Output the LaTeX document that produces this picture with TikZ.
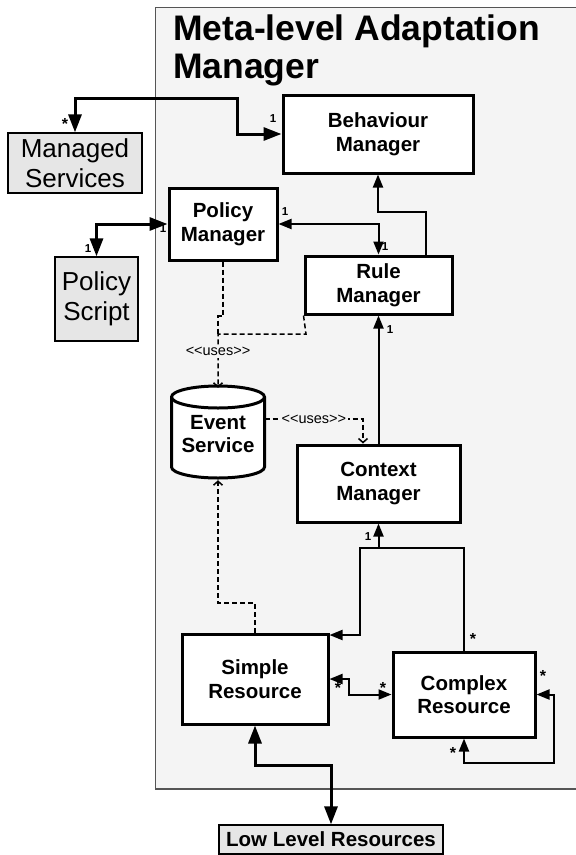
\documentclass[tikz,border=0pt]{standalone}
\usepackage{fontspec}
\setmainfont{Liberation Sans}
\newfontfamily\labelfont{Liberation Sans}
\usetikzlibrary{arrows.meta,calc}

\definecolor{panelbg}{HTML}{F4F4F4}
\definecolor{extfill}{HTML}{E6E6E6}
\definecolor{panelrule}{HTML}{555555}

\begin{document}
\begin{tikzpicture}[x=1pt,y=-1pt,
  mgr/.style={draw, line width=3pt, fill=white, align=center, inner sep=0pt,
    font=\bfseries\fontsize{20.5}{23.5}\selectfont},
  ext/.style={draw, line width=1.3pt, fill=extfill, align=center, inner sep=0pt},
  heavy/.style={line width=3pt,
    {Triangle[length=18pt,width=13pt]}-{Triangle[length=18pt,width=13pt]}},
  medium/.style={line width=2pt},
  medtip/.style={-{Triangle[length=13pt,width=10pt]}},
  medtips/.style={{Triangle[length=13pt,width=10pt]}-{Triangle[length=13pt,width=10pt]}},
  uses/.style={line width=1.5pt, dash pattern=on 5pt off 3pt,
    -{Straight Barb[length=4pt,width=9pt]}},
  useslabel/.style={fill=panelbg, inner sep=1.5pt, font=\labelfont\fontsize{14.5}{14.5}\selectfont},
  mult/.style={inner sep=0pt, font=\bfseries\fontsize{11.5}{11.5}\selectfont},
  star/.style={inner sep=0pt, font=\bfseries\fontsize{16}{16}\selectfont}]

\useasboundingbox (0,0) rectangle (576,855);
\clip (0,0) rectangle (576,855);
\fill[white] (0,0) rectangle (576,855);

% package boundary
\fill[panelbg] (155.5,7.5) rectangle (590,789);
\draw[panelrule, line width=1.2pt] (590,7.5) -- (155.5,7.5) -- (155.5,789) -- (590,789);
\node[anchor=north west, align=left, inner sep=0pt,
  font=\bfseries\fontsize{35.5}{38}\selectfont] (title) at (173,15)
  {Meta-level Adaptation\\Manager};

% components
\node[mgr, minimum width=190, minimum height=78] (beh) at (378,134) {Behaviour\\Manager};
\node[mgr, minimum width=108, minimum height=72] (pol) at (223,224) {Policy\\Manager};
\node[mgr, minimum width=147, minimum height=58] (rule) at (378.5,285) {Rule\\Manager};
\node[mgr, minimum width=163, minimum height=77] (ctx) at (378.5,483.5) {Context\\Manager};
\node[mgr, minimum width=146, minimum height=90] (simple) at (255,679) {Simple\\Resource};
\node[mgr, minimum width=142, minimum height=85] (complex) at (464,694.5) {Complex\\Resource};

% event service drum
\path[fill=white, draw, line width=3pt] (171.5,397) -- (171.5,467)
  arc[start angle=180, end angle=0, x radius=46.5, y radius=11] -- (264.5,397)
  arc[start angle=0, end angle=-180, x radius=46.5, y radius=11] -- cycle;
\draw[line width=3pt] (171.5,397) arc[start angle=180, end angle=0, x radius=46.5, y radius=11];
\node[align=center, inner sep=0pt, minimum width=93, minimum height=92,
  font=\bfseries\fontsize{20.5}{23.5}\selectfont] (event) at (218,434) {Event\\Service};

% external parties
\node[ext, minimum width=134, minimum height=60, font=\fontsize{26}{30}\selectfont]
  (ms) at (75,163) {Managed\\Services};
\node[ext, minimum width=83, minimum height=84, font=\fontsize{26}{30}\selectfont]
  (ps) at (96.5,299) {Policy\\Script};
\node[ext, minimum width=224, minimum height=29, font=\bfseries\fontsize{20.5}{24}\selectfont]
  (llr) at (331,839.5) {Low Level Resources};

% associations
\draw[heavy] (ms.north) |- (237,98) |- (beh.west);
\draw[heavy] (ps.north) |- (pol.west);
\draw[medium, medtips] (pol.east) -| (rule.north);
\draw[medium, medtip] ($(rule.north)+(47.5,0)$) |- (378,212) -- (beh.south);
\draw[medium, medtip] (ctx.north) -- (rule.south);
\draw[medium, medtip] (complex.north) |- (360,548) |- ($(simple.north east)+(0,2.5)$);
\draw[medium, medtip] (ctx.south |- 0,548) -- (ctx.south);
\draw[medium, medtips] (simple.east) -- ++(19,0) |- (complex.west);
\draw[medium, medtips] (complex.east) -- ++(17,0) |- ($(complex.south)+(0,24)$) -- (complex.south);
\draw[heavy] (simple.south) |- (llr.north |- 0,765) -- (llr.north);

% dependencies
\draw[uses, -] (pol.south) -- (223,316) -- (218,316) -- (218,334);
\draw[uses] (rule.south west) -- (306,334) -- (218,334)
  -- node[useslabel, pos=0.33] (uses1) {<<uses>>} (event.north);
\draw[uses] (event.east |- 0,419) -- node[useslabel] (uses2) {<<uses>>} (363,419)
  -- (ctx.north -| 363,0);
\draw[uses] (simple.north) |- (218,603) -- (event.south);

% multiplicities
\node[mult] (m1) at (273,119) {1};
\node[star] (m2) at (65,124) {*};
\node[mult] (m3) at (88,249) {1};
\node[mult] (m4) at (163,229) {1};
\node[mult] (m5) at (285,212) {1};
\node[mult] (m6) at (385,247) {1};
\node[mult] (m7) at (390,330) {1};
\node[mult] (m8) at (368,537) {1};
\node[star] (m9) at (473,639) {*};
\node[star] (m10) at (338,688) {*};
\node[star] (m11) at (383,688) {*};
\node[star] (m12) at (543,676) {*};
\node[star] (m13) at (453,753) {*};
\end{tikzpicture}
\end{document}
